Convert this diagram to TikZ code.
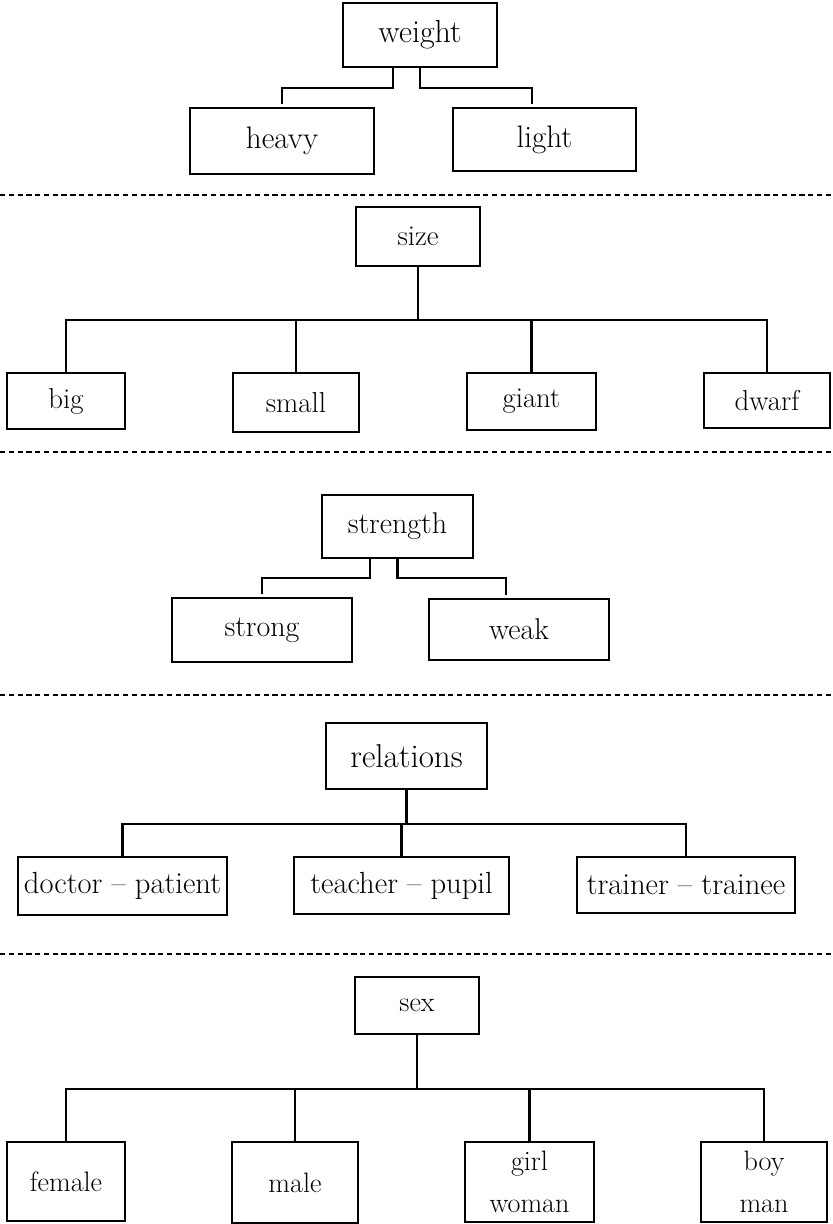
\documentclass[tikz,border=0pt]{standalone}
\usepackage{fontspec}
\usetikzlibrary{positioning}

\begin{document}
\begin{tikzpicture}[x=0.02cm, y=-0.02cm,
  box/.style={rectangle, draw=black, line width=1.2pt, inner sep=0pt, align=center},
  dims/.style 2 args={minimum width=#1cm, minimum height=#2cm},
  fa/.style={font=\fontsize{18.2}{21}\selectfont},
  fb/.style={font=\fontsize{17.7}{21}\selectfont},
  fc/.style={font=\fontsize{16.4}{20}\selectfont},
  fd/.style={font=\fontsize{17.1}{20}\selectfont},
  fe/.style={font=\fontsize{18.8}{22}\selectfont},
  ff/.style={font=\fontsize{17.4}{20}\selectfont},
  fg/.style={font=\fontsize{16}{24}\selectfont},
  link/.style={draw=black, line width=1.25pt},
  trunk/.style={draw=black, line width=1.6pt},
  divider/.style={draw=black, line width=0.9pt, dash pattern=on 3pt off 2pt}]
  \useasboundingbox (0,0) rectangle (832,1224);

  \node [box, fa, dims={3.08}{1.28}] (weight) at (420,35) {weight};
  \node [box, fb, dims={3.68}{1.32}] (heavy) at (282,141) {heavy};
  \node [box, fb, dims={3.66}{1.26}] (light) at (544.5,139.5) {light};
  \draw [link, shorten >=1.6pt] (weight.south) ++(-27,0) -- ++(0,20) -| (heavy.north);
  \draw [link, shorten >=1.6pt] (weight.south) -- ++(0,20) -| ([xshift=-0.25cm]light.north);

  \draw [divider] (0,195) -- (832,195);

  \node [box, fc, dims={2.48}{1.18}] (size) at (418,236.5) {size};
  \node [box, fc, dims={2.36}{1.12}] (big) at (66,401) {big};
  \node [box, fc, dims={2.52}{1.18}] (small) at (296,402.5) {small};
  \node [box, fc, dims={2.58}{1.14}] (giant) at (531.5,401.5) {giant};
  \node [box, fc, dims={2.52}{1.10}] (dwarf) at (767,400.5) {dwarf};
  \draw [trunk] (size.south) -- ++(0,53);
  \foreach \kid in {big,small,giant,dwarf}
    \draw [link] (size.south) ++(0,53) -| (\kid.north);

  \draw [divider] (0,452) -- (832,452);

  \node [box, fd, dims={3.02}{1.26}] (strength) at (397.5,526.5) {strength};
  \node [box, fd, dims={3.60}{1.28}] (strong) at (262,630) {strong};
  \node [box, fd, dims={3.60}{1.22}] (weak) at (519,629.5) {weak};
  \draw [link, shorten >=1.6pt] (strength.south) ++(-27.5,0) -- ++(0,19) -| (strong.north);
  \draw [link, shorten >=1.6pt] (strength.south) -- ++(0,19) -| ([xshift=-0.26cm]weak.north);

  \draw [divider] (0,695) -- (832,695);

  \node [box, fe, dims={3.22}{1.32}] (relations) at (406.5,756) {relations};
  \node [box, ff, dims={4.18}{1.16}] (doctor) at (122.5,886) {doctor -- patient};
  \node [box, ff, dims={4.30}{1.14}] (teacher) at (401.5,885.5) {teacher -- pupil};
  \node [box, ff, dims={4.36}{1.12}] (trainer) at (686,885) {trainer -- trainee};
  \draw [trunk] (relations.south) -- ++(0,34);
  \foreach \kid in {doctor,teacher,trainer}
    \draw [link] (relations.south) ++(0,34) -| (\kid.north);

  \draw [divider] (0,954) -- (832,954);

  \node [box, fg, dims={2.48}{1.14}] (sex) at (417,1005.5) {sex};
  \node [box, fg, dims={2.36}{1.58}] (female) at (66,1181.5) {female};
  \node [box, fg, dims={2.52}{1.62}] (male) at (295,1182.5) {male};
  \node [box, fg, dims={2.58}{1.60}] (girl) at (529.5,1182) {girl\\woman};
  \node [box, fg, dims={2.52}{1.60}] (boy) at (764,1182) {boy\\man};
  \draw [trunk] (sex.south) -- ++(0,54);
  \foreach \kid in {female,male,girl,boy}
    \draw [link] (sex.south) ++(0,54) -| (\kid.north);
\end{tikzpicture}
\end{document}
